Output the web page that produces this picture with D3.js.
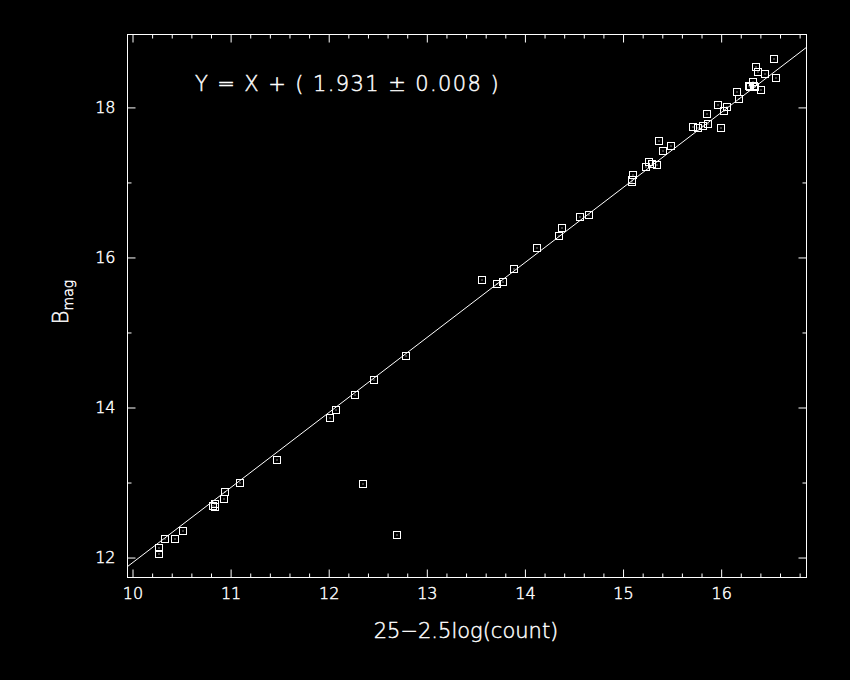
<!DOCTYPE html>
<html>
<head>
<meta charset="utf-8">
<script src="https://cdn.jsdelivr.net/npm/d3@7"></script>
<style>
  html, body { margin: 0; padding: 0; background: #000; }
  svg { display: block; }
  text { font-family: "DejaVu Sans", sans-serif; font-weight: 200; fill: #fff; stroke: #fff; stroke-width: 0.45px; }
</style>
</head>
<body>
<svg id="chart" width="850" height="680"></svg>
<script>
// ---- data ----
const xValues = [10.265, 10.265, 10.333, 10.43, 10.51, 10.82, 10.845, 10.845, 10.93, 10.94,
  11.10, 11.477, 12.35, 12.70, 12.013, 12.077, 12.27, 12.464, 12.784,
  13.564, 13.717, 13.778, 13.89, 14.124, 14.345, 14.38, 14.56, 14.654,
  15.09, 15.09, 15.10, 15.234, 15.265, 15.295, 15.346, 15.367, 15.407, 15.493,
  15.717, 15.768, 15.82, 15.87, 15.855, 16.0, 15.964, 16.03, 16.06, 16.16, 16.185,
  16.286, 16.32, 16.34, 16.29, 16.33, 16.36, 16.38, 16.41, 16.45, 16.556, 16.54];
const yValues = [12.125, 12.05, 12.245, 12.245, 12.356, 12.69, 12.72, 12.67, 12.78, 12.87,
  13.00, 13.30, 12.98, 12.30, 13.857, 13.963, 14.17, 14.367, 14.687,
  15.695, 15.642, 15.668, 15.84, 16.12, 16.285, 16.39, 16.534, 16.565,
  17.00, 17.03, 17.098, 17.20, 17.275, 17.24, 17.227, 17.547, 17.413, 17.485,
  17.741, 17.724, 17.755, 17.773, 17.906, 17.73, 18.026, 17.955, 18.01, 18.21, 18.11,
  18.284, 18.34, 18.274, 18.27, 18.28, 18.537, 18.466, 18.23, 18.447, 18.39, 18.64];
const fitOffset = 1.931;
const fitError = 0.008;
const xMajorTicks = [10, 11, 12, 13, 14, 15, 16];
const yMajorTicks = [12, 14, 16, 18];
const xTickLabels = ["10", "11", "12", "13", "14", "15", "16"];
const yTickLabels = ["12", "14", "16", "18"];
const xDomain = [9.949, 16.87];
const yDomain = [11.734, 18.972];
const equationText = "Y = X + ( " + fitOffset.toFixed(3) + " \u00B1 " + fitError.toFixed(3) + " )";
const xAxisTitle = "25\u22122.5log(count)";

// ---- layout ----
const L = 127.5, T = 34.5, R = 806.5, B = 577.5;
const svg = d3.select("#chart");
svg.append("rect").attr("width", 850).attr("height", 680).attr("fill", "#000");

const x = d3.scaleLinear().domain(xDomain).range([L, R]);
const y = d3.scaleLinear().domain(yDomain).range([B, T]);

const xMinor = d3.range(10, 16.81, 0.2).map(v => +v.toFixed(2)).filter(v => !xMajorTicks.includes(v));
const yMinor = d3.range(12, 18.5, 1).filter(v => !yMajorTicks.includes(v));

function styleAxis(g) {
  g.selectAll("path").attr("stroke", "none");
  g.selectAll("line").attr("stroke", "#fff").attr("stroke-width", 1);
}

// bottom
const gB = svg.append("g").attr("transform", `translate(0,${B})`);
gB.call(d3.axisBottom(x).tickValues(xMajorTicks).tickSize(-8).tickPadding(10)
  .tickFormat((d, i) => xTickLabels[i])).call(styleAxis);
gB.selectAll("text").attr("font-size", 16).attr("fill", "#fff").attr("font-family", "DejaVu Sans, sans-serif");
svg.append("g").attr("transform", `translate(0,${B})`)
  .call(d3.axisBottom(x).tickValues(xMinor).tickSize(-4).tickFormat("")).call(styleAxis);
// top
svg.append("g").attr("transform", `translate(0,${T})`)
  .call(d3.axisTop(x).tickValues(xMajorTicks).tickSize(-8).tickFormat("")).call(styleAxis);
svg.append("g").attr("transform", `translate(0,${T})`)
  .call(d3.axisTop(x).tickValues(xMinor).tickSize(-4).tickFormat("")).call(styleAxis);
// left
const gL = svg.append("g").attr("transform", `translate(${L},0)`);
gL.call(d3.axisLeft(y).tickValues(yMajorTicks).tickSize(-8).tickPadding(12)
  .tickFormat((d, i) => yTickLabels[i])).call(styleAxis);
gL.selectAll("text").attr("font-size", 16).attr("fill", "#fff").attr("font-family", "DejaVu Sans, sans-serif");
svg.append("g").attr("transform", `translate(${L},0)`)
  .call(d3.axisLeft(y).tickValues(yMinor).tickSize(-4).tickFormat("")).call(styleAxis);
// right
svg.append("g").attr("transform", `translate(${R},0)`)
  .call(d3.axisRight(y).tickValues(yMajorTicks).tickSize(-8).tickFormat("")).call(styleAxis);
svg.append("g").attr("transform", `translate(${R},0)`)
  .call(d3.axisRight(y).tickValues(yMinor).tickSize(-4).tickFormat("")).call(styleAxis);

// frame
svg.append("rect").attr("x", L).attr("y", T).attr("width", R - L).attr("height", B - T)
  .attr("fill", "none").attr("stroke", "#fff").attr("stroke-width", 1);

// fit line
const clipId = "plotclip";
svg.append("clipPath").attr("id", clipId).append("rect")
  .attr("x", L).attr("y", T).attr("width", R - L).attr("height", B - T);
svg.append("line")
  .attr("clip-path", `url(#${clipId})`)
  .attr("x1", x(xDomain[0])).attr("y1", y(xDomain[0] + fitOffset))
  .attr("x2", x(xDomain[1])).attr("y2", y(xDomain[1] + fitOffset))
  .attr("stroke", "#fff").attr("stroke-width", 1);

// points
const pts = xValues.map((v, i) => ({ x: v, y: yValues[i] }));
const S = 7;
const gp = svg.append("g");
gp.selectAll("rect.pt").data(pts).join("rect").attr("class", "pt")
  .attr("x", d => Math.round(x(d.x)) - S / 2)
  .attr("y", d => Math.round(y(d.y)) - S / 2)
  .attr("width", S).attr("height", S)
  .attr("fill", "none").attr("stroke", "#fff").attr("stroke-width", 1);
gp.selectAll("rect.dot").data(pts).join("rect").attr("class", "dot")
  .attr("x", d => Math.round(x(d.x)) - 0.5)
  .attr("y", d => Math.round(y(d.y)) - 0.5)
  .attr("width", 1).attr("height", 1).attr("fill", "#fff");

// equation
svg.append("text").attr("x", 195).attr("y", 91).attr("font-size", 21)
  .attr("letter-spacing", 1.4)
  .text(equationText);

// x title
svg.append("text").attr("x", (L + R) / 2 - 1).attr("y", 638).attr("text-anchor", "middle")
  .attr("font-size", 21).text(xAxisTitle);

// y title
const yt = svg.append("text").attr("transform", "translate(68,302) rotate(-90)")
  .attr("text-anchor", "middle").attr("font-size", 21);
yt.append("tspan").text("B");
yt.append("tspan").attr("font-size", 14).attr("dy", 5).text("mag");
</script>
</body>
</html>
